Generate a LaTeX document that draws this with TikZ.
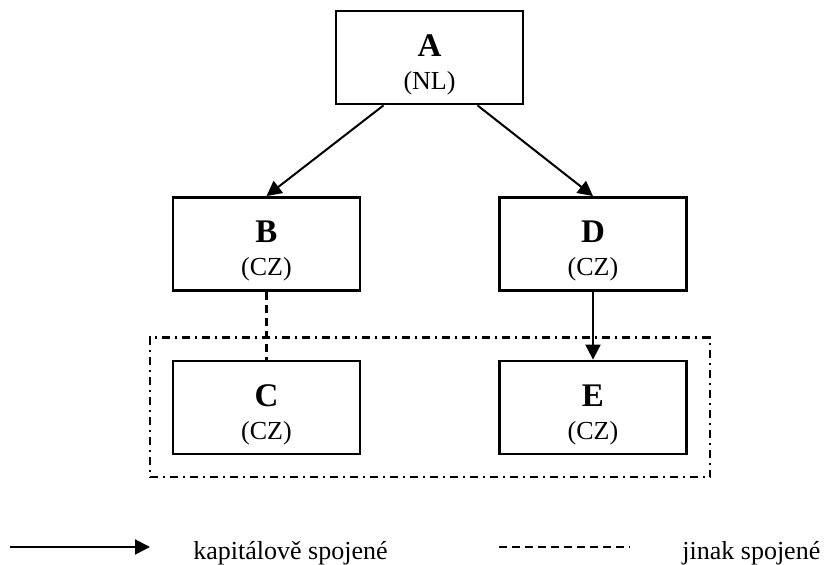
\documentclass[tikz,border=0pt]{standalone}
\usepackage{fontspec}
\setmainfont{Liberation Serif}
\usetikzlibrary{arrows.meta, fit}

\tikzset{
  firm/.style={draw, line width=1.4pt, minimum width=93.5pt, minimum height=46.5pt,
    align=center, inner sep=0pt, font=\fontsize{13}{16.5}\selectfont},
  capital/.style={-{Triangle[length=7.5pt, width=7.5pt]}, line width=1pt},
  other/.style={line width=1.1pt, dash pattern=on 4pt off 2.5pt},
  group/.style={draw, line width=1.1pt, dash pattern=on 4pt off 2.5pt on 1pt off 2.5pt, inner sep=11pt},
  legendtext/.style={anchor=base west, inner sep=0pt, font=\fontsize{13}{16}\selectfont},
}
\newcommand{\firmname}[2]{\rule{0pt}{18pt}{\fontsize{16.5}{16.5}\selectfont\bfseries #1}\\#2}

\begin{document}
\begin{tikzpicture}[x=0.5pt, y=0.5pt]
        \useasboundingbox (0, 0) rectangle (826, 565);

        \node [firm] (A) at (429.5, 507.5) {\firmname{A}{(NL)}};
        \node [firm] (B) at (266.5, 321) {\firmname{B}{(CZ)}};
        \node [firm] (D) at (593, 321) {\firmname{D}{(CZ)}};
        \node [firm] (C) at (266.5, 157.5) {\firmname{C}{(CZ)}};
        \node [firm] (E) at (593, 157.5) {\firmname{E}{(CZ)}};
        \node [group, fit=(C) (E)] (CE) {};

        \draw [capital] ([xshift=-23pt]A.south) to (B.north);
        \draw [capital] ([xshift=24pt]A.south) to (D.north);
        \draw [capital] (D) to (E);
        \draw [other] (B) to (C);

        % legend
        \coordinate (cap1) at (10, 18);
        \coordinate (cap2) at (150, 18);
        \coordinate (oth1) at (499, 18);
        \coordinate (oth2) at (630, 18);
        \draw [capital] (cap1) to (cap2);
        \draw [other] (oth1) to (oth2);
        \node [legendtext] (captext) at (193, 5) {kapitálově spojené};
        \node [legendtext] (othtext) at (682, 5) {jinak spojené};
    \end{tikzpicture}
\end{document}
